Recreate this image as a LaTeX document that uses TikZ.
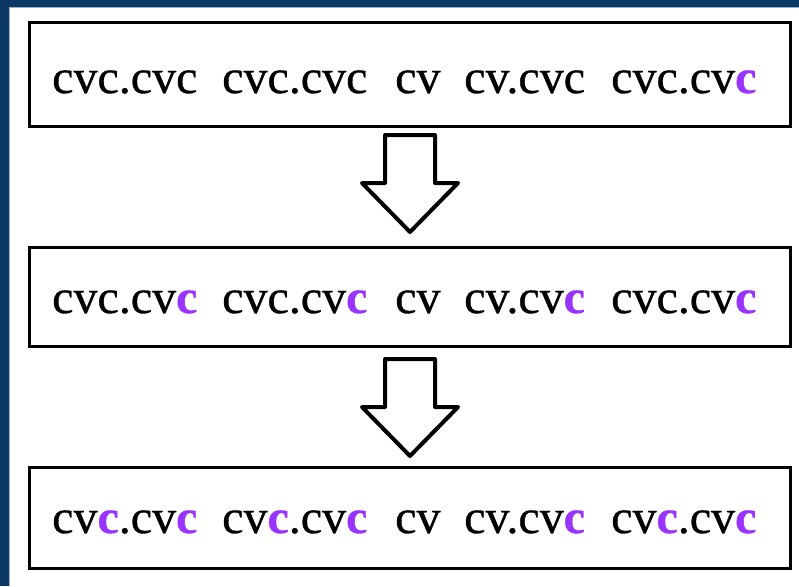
\documentclass[tikz,border=0pt]{standalone}
\usepackage{fontspec}
\newfontfamily\wordfamily[FakeBold=0.7]{Liberation Serif}
\definecolor{navy}{RGB}{12,56,100}
\definecolor{edgeblue}{RGB}{150,175,205}
\definecolor{vpurple}{RGB}{153,51,255}
\newcommand\pc{\textcolor{vpurple}{\bfseries c}}
\tikzset{
  x=1pt, y=-1pt,
  box/.style={draw=black, line width=3pt, fill=white, minimum width=761pt, inner sep=0pt},
  word/.style={anchor=base west, inner sep=0pt, font=\wordfamily\fontsize{48}{48}\selectfont},
  arrowline/.style={draw=black, fill=white, line width=4pt, line join=round},
  downarrow/.pic={\path[arrowline] (-25,0) -- (25,0) -- (25,48) -- (48,48) -- (0,97) -- (-48,48) -- (-25,48) -- cycle;}
}
\begin{document}
\begin{tikzpicture}
\useasboundingbox (0,0) rectangle (799,586);
\fill[white] (0,0) rectangle (799,586);
\fill[navy] (0,0) rectangle (799,7.5);
\fill[navy] (0,0) rectangle (8.5,586);
\draw[edgeblue, line width=1pt] (9,586) -- (9,8) -- (799,8);
% boxes
\node[box, minimum height=103pt] (b1) at (409.5,74.5) {};
\node[box, minimum height=99pt] (b2) at (409.5,296.5) {};
\node[box, minimum height=101pt] (b3) at (409.5,517.5) {};
% arrows
\coordinate (a1) at (410,135);
\coordinate (a2) at (410,359);
\pic at (a1) {downarrow};
\pic at (a2) {downarrow};
% row 1
\node[word] (w11) at (52,93) {cvc.cvc};
\node[word] (w12) at (222,93) {cvc.cvc};
\node[word] (w13) at (395,93) {cv};
\node[word] (w14) at (464,93) {cv.cvc};
\node[word] (w15) at (611,93) {cvc.cv\pc};
% row 2
\node[word] (w21) at (52,313) {cvc.cv\pc};
\node[word] (w22) at (222,313) {cvc.cv\pc};
\node[word] (w23) at (395,313) {cv};
\node[word] (w24) at (464,313) {cv.cv\pc};
\node[word] (w25) at (611,313) {cvc.cv\pc};
% row 3
\node[word] (w31) at (52,533) {cv\pc.cv\pc};
\node[word] (w32) at (222,533) {cv\pc.cv\pc};
\node[word] (w33) at (395,533) {cv};
\node[word] (w34) at (464,533) {cv.cv\pc};
\node[word] (w35) at (611,533) {cv\pc.cv\pc};
\end{tikzpicture}
\end{document}
